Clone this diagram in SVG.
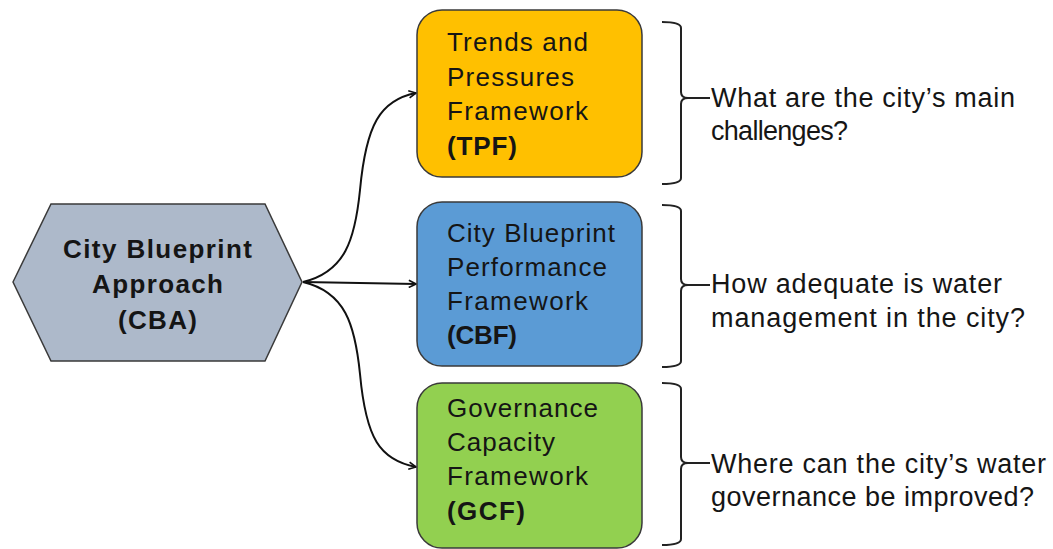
<svg xmlns="http://www.w3.org/2000/svg" width="1053" height="549" viewBox="0 0 1053 549">
<style>
text{font-family:"Liberation Sans",Arial,sans-serif;fill:#151515;}
.box{stroke:#3a3a3a;stroke-width:1.5;}
.bt{font-size:26px;}
.b{font-weight:bold;}
.q{font-size:27px;}
.conn{fill:none;stroke:#111;stroke-width:2;}
.br{fill:none;stroke:#222;stroke-width:2;}
</style>
<defs>
<marker id="arr" viewBox="0 0 10 10" refX="9" refY="5" markerWidth="9" markerHeight="9" orient="auto" markerUnits="userSpaceOnUse">
<path d="M1,1 L9,5 L1,9" fill="none" stroke="#111" stroke-width="1.8"/>
</marker>
</defs>
<rect width="1053" height="549" fill="#fff"/>
<g id="connectors">
<path class="conn" d="M303,282 C345,272 355,240 360,190 C366,125 380,100 416,93" marker-end="url(#arr)"/>
<path class="conn" d="M303,282 L416,284" marker-end="url(#arr)"/>
<path class="conn" d="M303,282 C345,292 355,324 360,374 C366,439 380,460 416,467" marker-end="url(#arr)"/>
</g>
<g id="cba">
<polygon class="box" points="13,282 51,204 265,204 302,282 265,361 51,361" fill="#ADB9CA"/>
<text class="b" x="63" y="258" font-size="26" textLength="189" lengthAdjust="spacing">City Blueprint</text>
<text class="b" x="92" y="293" font-size="26" textLength="131" lengthAdjust="spacing">Approach</text>
<text class="b" x="118" y="329" font-size="26" textLength="79" lengthAdjust="spacing">(CBA)</text>
</g>
<g id="tpf">
<rect class="box" x="417" y="10" width="225" height="167" rx="25" fill="#FFC000"/>
<text class="bt" x="447" y="51" textLength="141" lengthAdjust="spacing">Trends and</text>
<text class="bt" x="447" y="86" textLength="127" lengthAdjust="spacing">Pressures</text>
<text class="bt" x="447" y="120" textLength="141" lengthAdjust="spacing">Framework</text>
<text class="bt b" x="447" y="155" textLength="70" lengthAdjust="spacing">(TPF)</text>
</g>
<g id="cbf">
<rect class="box" x="417" y="202" width="225" height="164" rx="25" fill="#5B9BD5"/>
<text class="bt" x="447" y="242" textLength="168" lengthAdjust="spacing">City Blueprint</text>
<text class="bt" x="447" y="276" textLength="160" lengthAdjust="spacing">Performance</text>
<text class="bt" x="447" y="310" textLength="141" lengthAdjust="spacing">Framework</text>
<text class="bt b" x="447" y="344" textLength="70" lengthAdjust="spacing">(CBF)</text>
</g>
<g id="gcf">
<rect class="box" x="417" y="383" width="225" height="165" rx="25" fill="#92D050"/>
<text class="bt" x="447" y="417" textLength="151" lengthAdjust="spacing">Governance</text>
<text class="bt" x="447" y="451" textLength="108" lengthAdjust="spacing">Capacity</text>
<text class="bt" x="447" y="485" textLength="141" lengthAdjust="spacing">Framework</text>
<text class="bt b" x="447" y="520" textLength="78" lengthAdjust="spacing">(GCF)</text>
</g>
<g id="q1">
<path class="br" d="M662,22 Q681,22 681,28 L681,92 Q681,98 688,98 L710,98 M688,98 Q681,98 681,104 L681,178 Q681,184 662,184"/>
<text class="q" x="711" y="107" textLength="304" lengthAdjust="spacing">What are the city’s main</text>
<text class="q" x="711" y="140" textLength="137" lengthAdjust="spacing">challenges?</text>
</g>
<g id="q2">
<path class="br" d="M662,205 Q681,205 681,211 L681,279 Q681,285 688,285 L710,285 M688,285 Q681,285 681,291 L681,361 Q681,367 662,367"/>
<text class="q" x="711" y="293" textLength="291" lengthAdjust="spacing">How adequate is water</text>
<text class="q" x="711" y="327" textLength="314" lengthAdjust="spacing">management in the city?</text>
</g>
<g id="q3">
<path class="br" d="M662,383 Q681,383 681,389 L681,457 Q681,463 688,463 L710,463 M688,463 Q681,463 681,469 L681,539 Q681,545 662,545"/>
<text class="q" x="711" y="473" textLength="335" lengthAdjust="spacing">Where can the city’s water</text>
<text class="q" x="711" y="506" textLength="323" lengthAdjust="spacing">governance be improved?</text>
</g>
</svg>
